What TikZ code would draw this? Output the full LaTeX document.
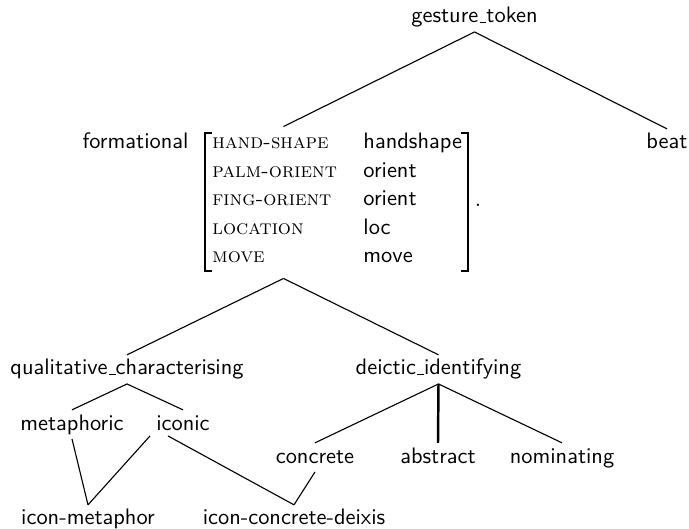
\documentclass[tikz,border=0pt]{standalone}
\usetikzlibrary{calc,fit}
% baseline underscore bar, as in classic \_
\newcommand\ubar{\kern.06em\vbox{\hrule height 0.6pt width .3em}}
\begin{document}
\begin{tikzpicture}[x=0.4464pt,y=-0.4464pt,
  tn/.style={font=\sffamily, text height=7pt, text depth=2pt,
             inner xsep=0pt, inner ysep=1.8pt, anchor=base},
  feat/.style={font=\fontsize{9.2}{11}\selectfont\rmfamily\scshape, inner sep=0pt, anchor=base west},
  val/.style={font=\sffamily, inner sep=0pt, anchor=base west},
  edge/.style={line width=0.5pt},
  thickedge/.style={line width=1.1pt},
  brk/.style={line width=0.45pt}]
\path[use as bounding box] (0,0) rectangle (689,529);

% tree nodes
\node[tn] (gt)   at (474.5,23) {gesture\ubar token};
\node[tn] (beat) at (667,149) {beat};
\node[tn] (qc)   at (127,375) {qualitative\ubar characterising};
\node[tn] (di)   at (438.5,375) {deictic\ubar identifying};
\node[tn] (met)  at (72,430) {metaphoric};
\node[tn] (ico)  at (183,430) {iconic};
\node[tn] (con)  at (315,463) {concrete};
\node[tn] (abs)  at (438,463) {abstract};
\node[tn] (nom)  at (562,463) {nominating};
\node[tn] (im)   at (88,525) {icon-metaphor};
\node[tn] (icd)  at (294,525) {icon-concrete-deixis};

% the formational feature structure
\node[font=\sffamily, inner sep=0pt, anchor=base east] (flab) at (189,149) {formational};
\node[feat] (f1) at (212,149) {hand-shape};
\node[feat] (f2) at (212,178) {palm-orient};
\node[feat] (f3) at (212,206) {fing-orient};
\node[feat] (f4) at (212,235) {location};
\node[feat] (f5) at (212,263) {move};
\node[val]  (v1) at (363,149) {handshape};
\node[val]  (v2) at (363,178) {orient};
\node[val]  (v3) at (363,206) {orient};
\node[val]  (v4) at (363,235) {loc};
\node[val]  (v5) at (363,263) {move};
\node[inner sep=0pt, anchor=base] (dot) at (478,207) {.};
\draw[brk] (212,133) -- (205,133) -- (205,271) -- (212,271);
\draw[brk] (461,133) -- (468,133) -- (468,271) -- (461,271);
\coordinate (fmtl) at (87,127);
\coordinate (fmbr) at (480,278);
\node[fit=(fmtl)(fmbr), inner sep=0pt] (fm) {};

% connectors
\draw[edge] (gt.south) -- (fm.north);
\draw[edge] (gt.south) -- (beat.north);
\draw[edge] (fm.south) -- (qc.north);
\draw[edge] (fm.south) -- (di.north);
\draw[edge] (qc.south) -- (met.north);
\draw[edge] (qc.south) -- (ico.north);
\draw[edge] (di.south) -- (con.north);
\draw[thickedge] (di.south) -- (abs.north);
\draw[edge] (di.south) -- (nom.north);
\draw[edge] (met.south) -- (im.north);
\draw[edge] ($(ico.south)+(-33,-3)$) -- (im.north);
\draw[edge] ($(ico.south)+(-15,-3)$) -- (icd.north);
\draw[edge] (con.south) -- (icd.north);
\end{tikzpicture}
\end{document}
